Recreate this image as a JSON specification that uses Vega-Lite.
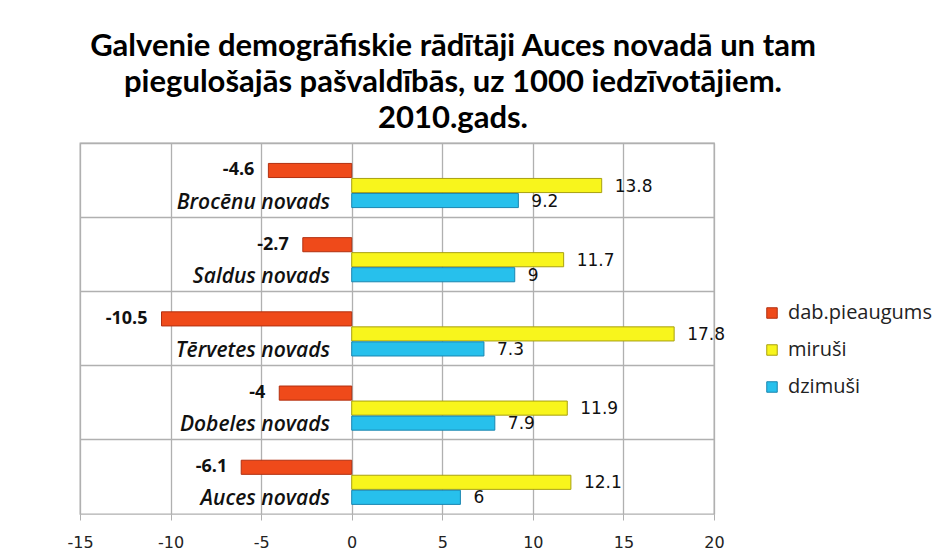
{
  "$schema": "https://vega.github.io/schema/vega-lite/v6.json",
  "autosize": {"type": "none"},
  "width": 634,
  "height": 371,
  "padding": {"left": 80, "top": 143, "right": 231, "bottom": 44},
  "background": "white",
  "title": {
    "text": ["Galvenie demogrāfiskie rādītāji  Auces novadā un tam", "piegulošajās pašvaldībās, uz 1000 iedzīvotājiem.", "2010.gads."],
    "font": "Lato",
    "fontSize": 31,
    "fontWeight": "bold",
    "color": "#000000",
    "lineHeight": 36,
    "anchor": "middle",
    "dx": 56,
    "offset": 8
  },
  "data": {
    "values": [
      {"novads": "Brocēnu novads", "series": "dab.pieaugums", "value": -4.6},
      {"novads": "Brocēnu novads", "series": "miruši", "value": 13.8},
      {"novads": "Brocēnu novads", "series": "dzimuši", "value": 9.2},
      {"novads": "Saldus novads", "series": "dab.pieaugums", "value": -2.7},
      {"novads": "Saldus novads", "series": "miruši", "value": 11.7},
      {"novads": "Saldus novads", "series": "dzimuši", "value": 9},
      {"novads": "Tērvetes novads", "series": "dab.pieaugums", "value": -10.5},
      {"novads": "Tērvetes novads", "series": "miruši", "value": 17.8},
      {"novads": "Tērvetes novads", "series": "dzimuši", "value": 7.3},
      {"novads": "Dobeles novads", "series": "dab.pieaugums", "value": -4},
      {"novads": "Dobeles novads", "series": "miruši", "value": 11.9},
      {"novads": "Dobeles novads", "series": "dzimuši", "value": 7.9},
      {"novads": "Auces novads", "series": "dab.pieaugums", "value": -6.1},
      {"novads": "Auces novads", "series": "miruši", "value": 12.1},
      {"novads": "Auces novads", "series": "dzimuši", "value": 6}
    ]
  },
  "encoding": {
    "y": {
      "field": "novads",
      "type": "nominal",
      "sort": ["Brocēnu novads", "Saldus novads", "Tērvetes novads", "Dobeles novads", "Auces novads"],
      "scale": {"paddingInner": 0, "paddingOuter": 0},
      "axis": {"title": null, "labels": false, "ticks": false, "domain": false, "grid": true, "bandPosition": 0, "gridColor": "#b0b0b0", "gridWidth": 1.3}
    },
    "yOffset": {
      "field": "series",
      "type": "nominal",
      "sort": ["dab.pieaugums", "miruši", "dzimuši"],
      "scale": {"paddingInner": 0.06, "paddingOuter": 1.4, "align": 0.68}
    }
  },
  "layer": [
    {
      "mark": {"type": "bar", "strokeWidth": 1},
      "encoding": {
        "x": {
          "field": "value",
          "type": "quantitative",
          "scale": {"domain": [-15, 20], "nice": false, "zero": false},
          "axis": {
            "title": null,
            "values": [-15, -10, -5, 0, 5, 10, 15, 20],
            "labelExpr": "datum.value + ''",
            "labelFlush": false,
            "labelOverlap": false,
            "grid": true,
            "gridColor": "#b0b0b0",
            "gridWidth": 1.3,
            "domain": false,
            "tickColor": "#b0b0b0",
            "tickSize": 6,
            "labelFont": "DejaVu Sans",
            "labelFontSize": 16,
            "labelColor": "#222222",
            "labelPadding": 14
          }
        },
        "color": {
          "field": "series",
          "type": "nominal",
          "sort": ["dab.pieaugums", "miruši", "dzimuši"],
          "scale": {"domain": ["dab.pieaugums", "miruši", "dzimuši"], "range": ["#ef4a1a", "#f8f51c", "#27c0ec"]},
          "legend": {
            "title": null,
            "orient": "none",
            "legendX": 682,
            "legendY": 160,
            "symbolType": "square",
            "symbolSize": 110,
            "symbolStrokeWidth": 1,
            "labelFont": "Open Sans",
            "labelFontSize": 20,
            "labelColor": "#222222",
            "rowPadding": 17,
            "labelOffset": 6
          }
        },
        "stroke": {
          "field": "series",
          "type": "nominal",
          "scale": {"domain": ["dab.pieaugums", "miruši", "dzimuši"], "range": ["#b23010", "#a8a010", "#1a86b0"]},
          "legend": null
        }
      }
    },
    {
      "transform": [{"filter": "datum.value < 0"}],
      "mark": {"type": "text", "align": "right", "baseline": "middle", "dx": -14, "font": "Open Sans", "fontWeight": "bold", "fontSize": 18, "color": "#111111"},
      "encoding": {
        "x": {"field": "value", "type": "quantitative"},
        "text": {"field": "value", "type": "nominal"}
      }
    },
    {
      "transform": [{"filter": "datum.value > 0"}],
      "mark": {"type": "text", "align": "left", "baseline": "middle", "dx": 13, "dy": 1, "font": "DejaVu Sans", "fontSize": 17, "color": "#111111"},
      "encoding": {
        "x": {"field": "value", "type": "quantitative"},
        "text": {"field": "value", "type": "nominal"}
      }
    },
    {
      "transform": [{"filter": "datum.series == 'dzimuši'"}],
      "mark": {"type": "text", "align": "right", "baseline": "middle", "dy": 2, "font": "Open Sans", "fontStyle": "italic", "fontWeight": 600, "fontSize": 21, "color": "#111111"},
      "encoding": {
        "x": {"datum": -1.2},
        "text": {"field": "novads"}
      }
    }
  ],
  "config": {"view": {"stroke": "#b0b0b0", "strokeWidth": 1.3}}
}
